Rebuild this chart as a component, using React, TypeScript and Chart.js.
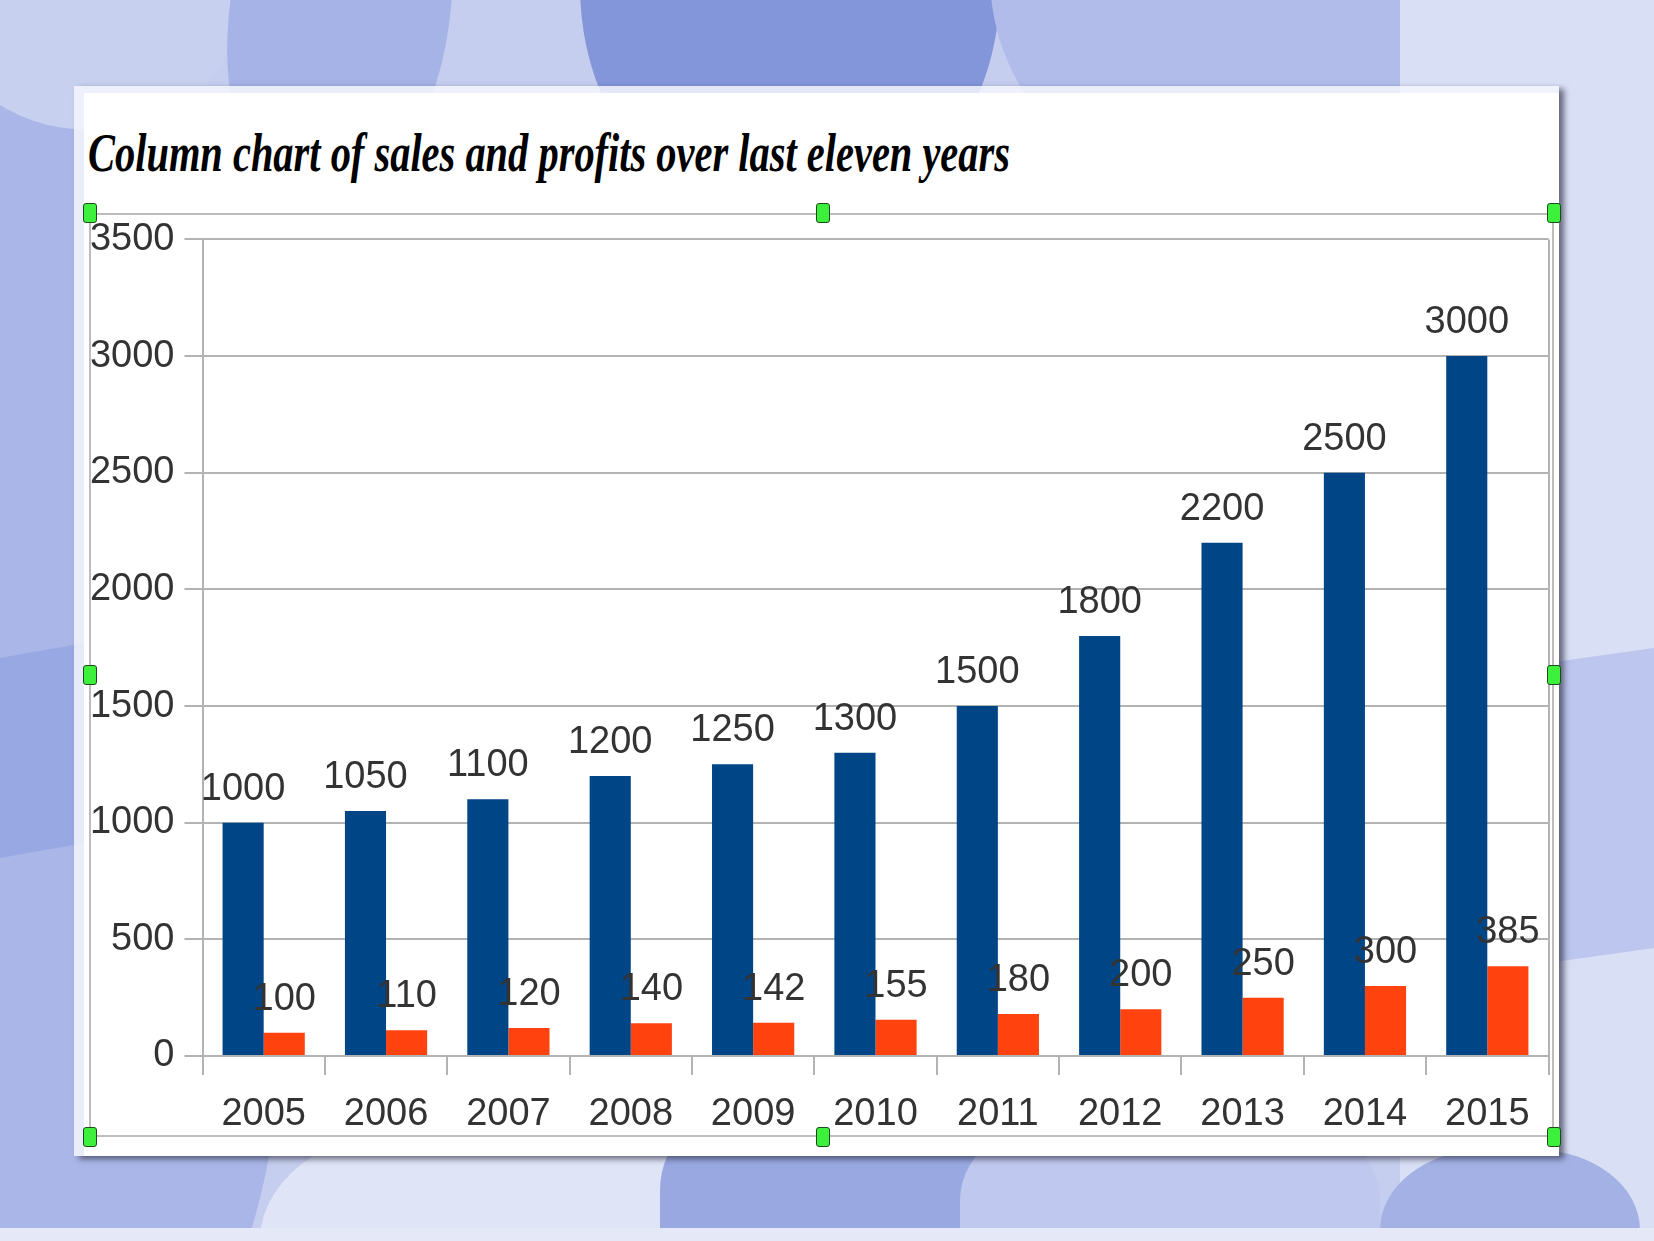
import React, { useEffect, useLayoutEffect, useRef } from 'react';
import { Chart, registerables } from 'chart.js';

Chart.register(...registerables);

const categories = ['2005', '2006', '2007', '2008', '2009', '2010', '2011', '2012', '2013', '2014', '2015'];
const salesValues = [1000, 1050, 1100, 1200, 1250, 1300, 1500, 1800, 2200, 2500, 3000];
const profitValues = [100, 110, 120, 140, 142, 155, 180, 200, 250, 300, 385];
const seriesNames = ['Sales', 'Profits'];
const seriesColors = ['#004586', '#ff420e'];
const yMin = 0;
const yMax = 3500;
const yStep = 500;
const titleText = 'Column chart of sales and profits over last eleven years';

const GRID = '#b3b3b3';
const TEXT = '#333333';
const FONT = '"Liberation Sans", Arial, sans-serif';

const valueLabels = {
  id: 'valueLabels',
  afterDatasetsDraw(chart: any) {
    const ctx = chart.ctx;
    ctx.save();
    ctx.font = '38px "Liberation Sans", Arial, sans-serif';
    ctx.fillStyle = TEXT;
    ctx.textAlign = 'center';
    ctx.textBaseline = 'alphabetic';
    chart.data.datasets.forEach((ds: any, di: number) => {
      const meta = chart.getDatasetMeta(di);
      meta.data.forEach((el: any, i: number) => {
        ctx.fillText(String(ds.data[i]), el.x, el.y - 23);
      });
    });
    ctx.restore();
  },
};

function Handle({ x, y }: { x: number; y: number }) {
  return (
    <div
      style={{
        position: 'absolute',
        left: x - 7,
        top: y - 10,
        width: 14,
        height: 20,
        boxSizing: 'border-box',
        background: '#3cf03c',
        border: '1.5px solid #1d4a1d',
        borderRadius: 3,
        zIndex: 5,
      }}
    />
  );
}

export default function App() {
  const canvasRef = useRef<HTMLCanvasElement | null>(null);
  const titleRef = useRef<HTMLSpanElement | null>(null);

  useLayoutEffect(() => {
    const el = titleRef.current;
    if (el) {
      el.style.transform = 'none';
      const w = el.getBoundingClientRect().width;
      if (w > 0) el.style.transform = `scaleX(${922 / w})`;
    }
  }, []);

  useEffect(() => {
    if (!canvasRef.current) return;
    const chart = new Chart(canvasRef.current, {
      type: 'bar',
      data: {
        labels: categories,
        datasets: [
          {
            label: seriesNames[0],
            data: salesValues,
            backgroundColor: seriesColors[0],
            borderWidth: 0,
            categoryPercentage: 0.672,
            barPercentage: 1,
          },
          {
            label: seriesNames[1],
            data: profitValues,
            backgroundColor: seriesColors[1],
            borderWidth: 0,
            categoryPercentage: 0.672,
            barPercentage: 1,
          },
        ],
      },
      options: {
        responsive: false,
        animation: false,
        devicePixelRatio: 1,
        layout: { padding: { top: 25.4, right: 5.5, left: 0, bottom: 0 } },
        plugins: {
          legend: { display: false },
          title: { display: false },
          tooltip: { enabled: false },
        },
        scales: {
          x: {
            offset: true,
            grid: {
              offset: true,
              drawOnChartArea: true,
              drawTicks: true,
              tickLength: 19,
              lineWidth: 2,
              tickWidth: 2,
              tickColor: GRID,
              color: (ctx: any) => (ctx.type !== 'tick' || ctx.index === 0 ? GRID : 'rgba(0,0,0,0)'),
            },
            border: { display: true, color: GRID, width: 2 },
            ticks: {
              color: TEXT,
              font: { family: FONT, size: 38 },
              padding: 17,
              maxRotation: 0,
              autoSkip: false,
            },
            afterFit: (scale: any) => {
              scale.height = 81;
              scale.paddingLeft = 0;
              scale.paddingRight = 0;
            },
          },
          y: {
            min: yMin,
            max: yMax,
            grid: {
              color: GRID,
              lineWidth: 2,
              tickLength: 18,
              drawTicks: true,
            },
            border: { display: true, color: GRID, width: 2 },
            ticks: {
              stepSize: yStep,
              color: TEXT,
              font: { family: FONT, size: 38 },
              padding: 10,
              callback: (v: any) => String(v),
            },
            afterFit: (scale: any) => {
              scale.width = 112.5;
              scale.paddingTop = 0;
              scale.paddingBottom = 0;
            },
          },
        },
      },
      plugins: [valueLabels],
    });
    return () => chart.destroy();
  }, []);

  return (
    <div
      style={{
        position: 'absolute',
        left: 0,
        top: 0,
        width: 1654,
        height: 1241,
        overflow: 'hidden',
        background: '#c6ceef',
      }}
    >
      {/* decorative background */}
      <div style={{ position: 'absolute', left: -250, top: -300, width: 520, height: 1700, borderRadius: '50%', background: '#a9b6e7', transform: 'rotate(-8deg)' }} />
      <div style={{ position: 'absolute', left: -60, top: -120, width: 300, height: 250, borderRadius: '50%', background: '#c8d0f0' }} />
      <div style={{ position: 'absolute', left: 230, top: -200, width: 220, height: 420, borderRadius: '50%', background: '#a6b3e6', transform: 'rotate(8deg)' }} />
      <div style={{ position: 'absolute', left: 580, top: -300, width: 420, height: 520, borderRadius: '45%', background: '#8396da' }} />
      <div style={{ position: 'absolute', left: 990, top: -250, width: 460, height: 450, borderRadius: '50%', background: '#b1bcea' }} />
      <div style={{ position: 'absolute', left: 1400, top: -200, width: 400, height: 1700, background: '#d9dff5' }} />
      <div style={{ position: 'absolute', left: 1540, top: 650, width: 200, height: 300, background: '#bcc6ee', transform: 'skewY(-8deg)' }} />
      <div style={{ position: 'absolute', left: 0, top: 650, width: 90, height: 200, background: '#98a8e2', transform: 'skewY(-10deg)' }} />
      <div style={{ position: 'absolute', left: 260, top: 1120, width: 460, height: 300, borderRadius: '40%', background: '#dfe4f6' }} />
      <div style={{ position: 'absolute', left: 660, top: 1100, width: 330, height: 300, borderRadius: '30%', background: '#99a8e1' }} />
      <div style={{ position: 'absolute', left: 960, top: 1110, width: 420, height: 300, borderRadius: '30%', background: '#bfc8ee' }} />
      <div style={{ position: 'absolute', left: 1380, top: 1150, width: 260, height: 200, borderRadius: '40%', background: '#a3b1e5' }} />
      <div style={{ position: 'absolute', left: 0, top: 1228, width: 1654, height: 13, background: '#e4e8f7' }} />

      {/* white panel */}
      <div
        style={{
          position: 'absolute',
          left: 74,
          top: 86,
          width: 1485,
          height: 1070,
          background: 'rgba(245,247,253,0.85)',
          boxShadow: '5px 3px 6px rgba(40,40,60,0.65)',
        }}
      >
        <div style={{ position: 'absolute', left: 10, top: 7, right: 0, bottom: 0, background: '#ffffff' }} />
      </div>

      {/* title */}
      <div
        style={{
          position: 'absolute',
          left: 88,
          top: 126,
          whiteSpace: 'nowrap',
          fontFamily: '"Liberation Serif", "Times New Roman", serif',
          fontStyle: 'italic',
          fontWeight: 'bold',
          fontSize: 54,
          lineHeight: '54px',
          color: '#000000',
          zIndex: 3,
        }}
      >
        <span ref={titleRef} style={{ display: 'inline-block', transformOrigin: 'left center' }}>
          {titleText}
        </span>
      </div>

      {/* selection frame */}
      <div
        style={{
          position: 'absolute',
          left: 89,
          top: 213,
          width: 1465,
          height: 924,
          boxSizing: 'border-box',
          border: '2px solid #bdbdbd',
          zIndex: 2,
        }}
      />

      <canvas
        ref={canvasRef}
        width={1464}
        height={923}
        style={{ position: 'absolute', left: 90, top: 214, width: 1464, height: 923, zIndex: 3 }}
      />

      <Handle x={90} y={213} />
      <Handle x={823} y={213} />
      <Handle x={1554} y={213} />
      <Handle x={90} y={675} />
      <Handle x={1554} y={675} />
      <Handle x={90} y={1137} />
      <Handle x={823} y={1137} />
      <Handle x={1554} y={1137} />
    </div>
  );
}
